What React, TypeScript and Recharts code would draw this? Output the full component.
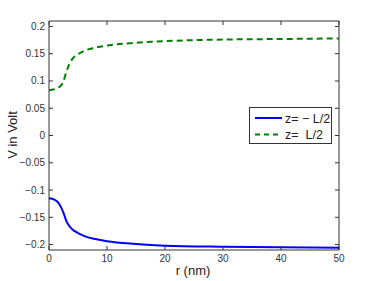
import React from 'react';
import { LineChart, Line, XAxis, YAxis, ReferenceArea } from 'recharts';

const rValues = [0, 0.5, 1, 1.5, 2, 2.5, 3, 3.5, 4, 5, 6, 8, 10, 15, 20, 30, 40, 50];
const lowerSide = [-0.115, -0.116, -0.118, -0.122, -0.13, -0.142, -0.157, -0.166, -0.172, -0.179, -0.184, -0.19, -0.194, -0.199, -0.202, -0.204, -0.205, -0.206];
const upperSide = [0.083, 0.084, 0.085, 0.087, 0.091, 0.1, 0.117, 0.131, 0.14, 0.149, 0.155, 0.161, 0.165, 0.17, 0.173, 0.176, 0.177, 0.178];
const xTicks = [0, 10, 20, 30, 40, 50];
const yTicks = [0.2, 0.15, 0.1, 0.05, 0, -0.05, -0.1, -0.15, -0.2];
const seriesNames = ['z= \u2212 L/2', 'z=  L/2'];

const data = rValues.map((r, i) => ({ r, lower: lowerSide[i], upper: upperSide[i] }));

const FONT = '"Liberation Sans", Arial, sans-serif';
const AXIS = '#333';
const PLOT_H = 229;
const PLOT_W = 290;

const fmtY = (v: number) => (v < 0 ? '\u2212' + String(-v) : String(v));

const BottomTick = (props: any) => {
  const { x, y, payload } = props;
  return (
    <g>
      <line x1={x} x2={x} y1={y} y2={y - 4} stroke={AXIS} />
      <line x1={x} x2={x} y1={y - PLOT_H} y2={y - PLOT_H + 4} stroke={AXIS} />
      <text x={x} y={y + 12} textAnchor="middle" fontSize={10} fill="#333" fontFamily={FONT}>
        {payload.value}
      </text>
    </g>
  );
};

const LeftTick = (props: any) => {
  const { x, y, payload } = props;
  return (
    <g>
      <line x1={x} x2={x + 4} y1={y} y2={y} stroke={AXIS} />
      <line x1={x + PLOT_W} x2={x + PLOT_W - 4} y1={y} y2={y} stroke={AXIS} />
      <text x={x - 4} y={y + 3.5} textAnchor="end" fontSize={10} fill="#333" fontFamily={FONT}>
        {fmtY(payload.value)}
      </text>
    </g>
  );
};

const LegendBox = () => (
  <div
    style={{
      position: 'absolute',
      left: 249,
      top: 107,
      border: '1px solid #333',
      background: '#fff',
      width: 83,
      height: 37,
      boxSizing: 'border-box',
    }}
  >
    <svg width={81} height={35} style={{ display: 'block' }}>
      <line x1={5} x2={32} y1={10} y2={10} stroke="#0000ff" strokeWidth={2} />
      <text x={35} y={14.5} fontSize={12.5} fill="#222" fontFamily={FONT} style={{ whiteSpace: 'pre' }}>
        {seriesNames[0]}
      </text>
      <line x1={5} x2={32} y1={26.5} y2={26.5} stroke="#008000" strokeWidth={2} strokeDasharray="5 4" />
      <text x={35} y={31} fontSize={12.5} fill="#222" fontFamily={FONT} style={{ whiteSpace: 'pre' }}>
        {seriesNames[1]}
      </text>
    </svg>
  </div>
);

export default function App() {
  return (
    <div style={{ position: 'relative', width: 374, height: 281, background: '#fff' }}>
      <style>{'body{margin:0}'}</style>
      <LineChart width={374} height={281} data={data} margin={{ top: 21, right: 35, left: 0, bottom: 0 }}>
        <XAxis
          dataKey="r"
          type="number"
          domain={[0, 50]}
          ticks={xTicks}
          axisLine={false}
          tickLine={false}
          tickSize={0}
          tickMargin={0}
          height={31}
          tick={<BottomTick />}
          label={{
            content: () => (
              <text x={193} y={275} textAnchor="middle" fontSize={13} fill="#222" fontFamily={FONT}>
                r (nm)
              </text>
            ),
          }}
        />
        <YAxis
          type="number"
          domain={[-0.21, 0.21]}
          ticks={yTicks}
          allowDataOverflow
          axisLine={false}
          tickLine={false}
          tickSize={0}
          tickMargin={0}
          width={49}
          interval={0}
          tick={<LeftTick />}
          label={{
            content: () => (
              <text
                x={17}
                y={135}
                textAnchor="middle"
                fontSize={13}
                fill="#222"
                fontFamily={FONT}
                transform="rotate(-90 17 135)"
              >
                V in Volt
              </text>
            ),
          }}
        />
        <ReferenceArea x1={0} x2={50} y1={-0.21} y2={0.21} fill="none" stroke={AXIS} strokeWidth={1} ifOverflow="visible" />
        <Line type="monotone" dataKey="lower" name={seriesNames[0]} stroke="#0000ff" strokeWidth={2} dot={false} isAnimationActive={false} />
        <Line
          type="monotone"
          dataKey="upper"
          name={seriesNames[1]}
          stroke="#008000"
          strokeWidth={2}
          strokeDasharray="6 4"
          dot={false}
          isAnimationActive={false}
        />
      </LineChart>
      <LegendBox />
    </div>
  );
}
